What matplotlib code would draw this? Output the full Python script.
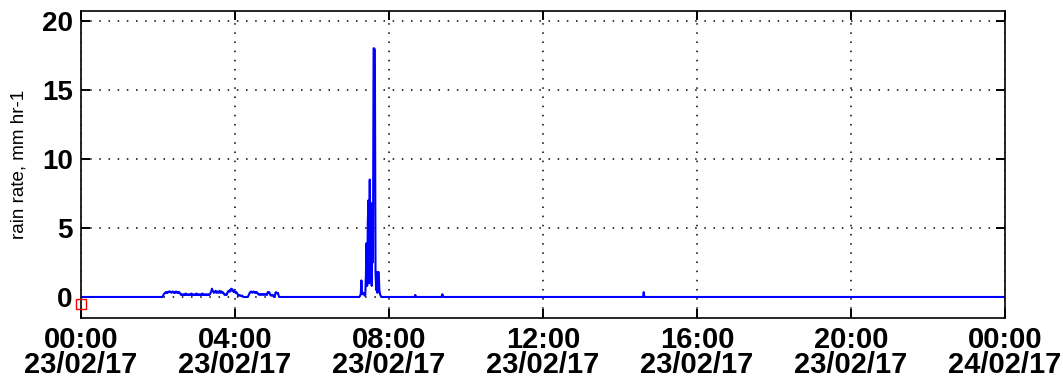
import matplotlib
matplotlib.use("Agg")
import matplotlib.pyplot as plt
import numpy as np

plt.rcParams["font.family"] = ["Liberation Sans", "DejaVu Sans"]

# rain rate, one value per minute on 23/02/17; minutes not listed are 0
light_start = 128  # minutes after 00:00
light_rate = [
    0.1, 0.2, 0.25, 0.3, 0.35, 0.3, 0.35, 0.3,
    0.35, 0.4, 0.35, 0.4, 0.35, 0.3, 0.35, 0.4, 0.35, 0.3, 0.35, 0.3,
    0.4, 0.35, 0.3, 0.35, 0.3, 0.35, 0.3, 0.2, 0.15, 0.2, 0.15,
    0.15, 0.2, 0.15, 0.15, 0.25, 0.15, 0.15, 0.2, 0.15, 0.15, 0.2, 0.15,
    0.15, 0.25, 0.15, 0.15, 0.2, 0.15, 0.15, 0.2, 0.15, 0.25, 0.15, 0.15,
    0.2, 0.15, 0.15, 0.2, 0.15, 0.15, 0.25, 0.15, 0.15, 0.2, 0.15, 0.15,
    0.2, 0.15, 0.15, 0.2, 0.15, 0.15, 0.2, 0.3, 0.4, 0.6, 0.5, 0.4,
    0.3, 0.35, 0.4, 0.45, 0.3, 0.35, 0.4, 0.3, 0.35, 0.45, 0.3, 0.35,
    0.4, 0.3, 0.35, 0.3, 0.2, 0.15, 0.15, 0.2, 0.15, 0.3, 0.4, 0.35,
    0.45, 0.5, 0.4, 0.6, 0.5, 0.55, 0.4, 0.45, 0.35, 0.4, 0.3, 0.35,
    0.3, 0.2, 0.1, 0.1, 0.15, 0.1, 0.1, 0.05, 0.1, 0.05, 0.0, 0.0,
    0.0, 0.0, 0.0, 0.0, 0.0, 0.0, 0.1, 0.2, 0.3, 0.35, 0.4, 0.35,
    0.3, 0.35, 0.4, 0.35, 0.3, 0.35, 0.3, 0.35, 0.3, 0.2, 0.2, 0.15,
    0.2, 0.2, 0.15, 0.2, 0.2, 0.15, 0.2, 0.2, 0.15, 0.2, 0.2, 0.15,
    0.35, 0.3, 0.35, 0.3, 0.15, 0.1, 0.15, 0.1, 0.15, 0.1, 0.0, 0.0,
    0.3, 0.35, 0.3, 0.25, 0.3, 0.1,
]
storm_start = 435
storm_rate = [
    0.1, 0.2, 1.2, 0.3, 0.2, 0.3, 0.2, 0.1, 0.1, 1.5,
    3.9, 0.8, 5.5, 7.0, 1.0, 8.5, 2.0, 6.8, 0.8, 5.9,
    2.5, 18.0, 18.0, 17.9, 1.8, 0.5, 1.8, 0.3, 1.8, 1.8,
    0.5, 0.2, 0.1,
]
blip_minutes = [521, 563, 564, 877]
blip_rate = [0.15, 0.2, 0.1, 0.35]

tick_hours = [0, 4, 8, 12, 16, 20, 24]
tick_labels = ["00:00\n23/02/17", "04:00\n23/02/17", "08:00\n23/02/17",
               "12:00\n23/02/17", "16:00\n23/02/17", "20:00\n23/02/17",
               "00:00\n24/02/17"]
y_ticks = [0, 5, 10, 15, 20]

minutes = np.arange(0, 24 * 60 + 1)
rate = np.zeros(len(minutes))
rate[light_start:light_start + len(light_rate)] = light_rate
rate[storm_start:storm_start + len(storm_rate)] = storm_rate
rate[blip_minutes] = blip_rate
hours = minutes / 60.0

fig = plt.figure(figsize=(10.63, 3.81), dpi=100)
ax = fig.add_axes([0.0762, 0.1654, 0.8692, 0.8057])

ax.plot(hours, rate, color="#0000ff", lw=1.5)
ax.plot([0], [-0.5], "s", mfc="none", mec="red", ms=7.5, mew=1.0,
        clip_on=False, zorder=5)

ax.set_xlim(0, 24)
ax.set_ylim(-1.52, 20.7)
ax.set_xticks(tick_hours)
ax.set_xticklabels(tick_labels, linespacing=0.85)
ax.set_yticks(y_ticks)

ax.grid(True, color="black", lw=1.1, linestyle=(0, (1, 5)))
ax.tick_params(direction="in", length=6.5, width=1.4, top=True, right=True,
               labelsize=20, pad=6)
ax.tick_params(axis="x", labelsize=21)
for lab in ax.get_xticklabels() + ax.get_yticklabels():
    lab.set_fontweight("bold")
for sp in ax.spines.values():
    sp.set_linewidth(1.2)

ax.set_ylabel("rain rate, mm hr-1", fontsize=13.5)
ax.yaxis.set_label_coords(-0.058, 0.5)

fig.savefig("out.png", dpi=100)
